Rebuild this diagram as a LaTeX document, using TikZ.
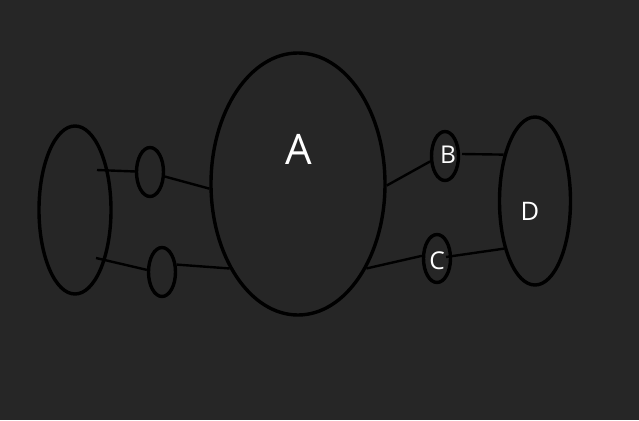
\documentclass[tikz,border=0pt]{standalone}
\usepackage{fontspec}
\setmainfont{Open Sans}
\usetikzlibrary{shapes.geometric}
\definecolor{bg}{HTML}{262626}
\tikzset{
  oval/.style={ellipse, draw=black, line width=3.4pt, inner sep=0pt},
  conn/.style={draw=black, line width=2.4pt},
  lbl/.style={text=white, anchor=base, inner sep=0pt},
}
\begin{document}
\begin{tikzpicture}[x=1pt,y=-1pt]
\fill[bg] (0,0) rectangle (639,420);
\useasboundingbox (0,0) rectangle (639,420);
\node[oval, minimum width=72pt, minimum height=168pt] (L) at (75,210) {};
\node[oval, minimum width=27pt, minimum height=49pt] (S1) at (150,172) {};
\node[oval, minimum width=27pt, minimum height=49pt] (S2) at (162,272) {};
\node[oval, minimum width=174pt, minimum height=262pt] (A) at (298,184) {};
\node[oval, minimum width=27pt, minimum height=49pt] (B) at (445,156) {};
\node[oval, minimum width=27pt, minimum height=48pt] (C) at (437,258.5) {};
\node[oval, minimum width=71pt, minimum height=168pt] (D) at (535,201) {};
\node[lbl, font=\fontsize{42}{42}\selectfont] (tA) at (299,164) {A};
\node[lbl, font=\fontsize{24.5}{24.5}\selectfont] (tB) at (448,163) {B};
\node[lbl, font=\fontsize{24.5}{24.5}\selectfont] (tC) at (437,269) {C};
\node[lbl, font=\fontsize{25.5}{25.5}\selectfont] (tD) at (530,220.5) {D};
\coordinate (l1) at (97,170);
\coordinate (l2) at (96,258);
\coordinate (b1) at (462,154);
\coordinate (c1) at (446,257);
\draw[conn] (l1) -- (S1.178);
\draw[conn] (S1.-17) -- (A.183);
\draw[conn] (l2) -- (S2.172);
\draw[conn] (S2.27) -- (A.231);
\draw[conn] (A.-1) -- (B.200);
\draw[conn] (b1) -- (D.124);
\draw[conn] (A.-51) -- (C.170);
\draw[conn] (c1) -- (D.237);
\end{tikzpicture}
\end{document}
